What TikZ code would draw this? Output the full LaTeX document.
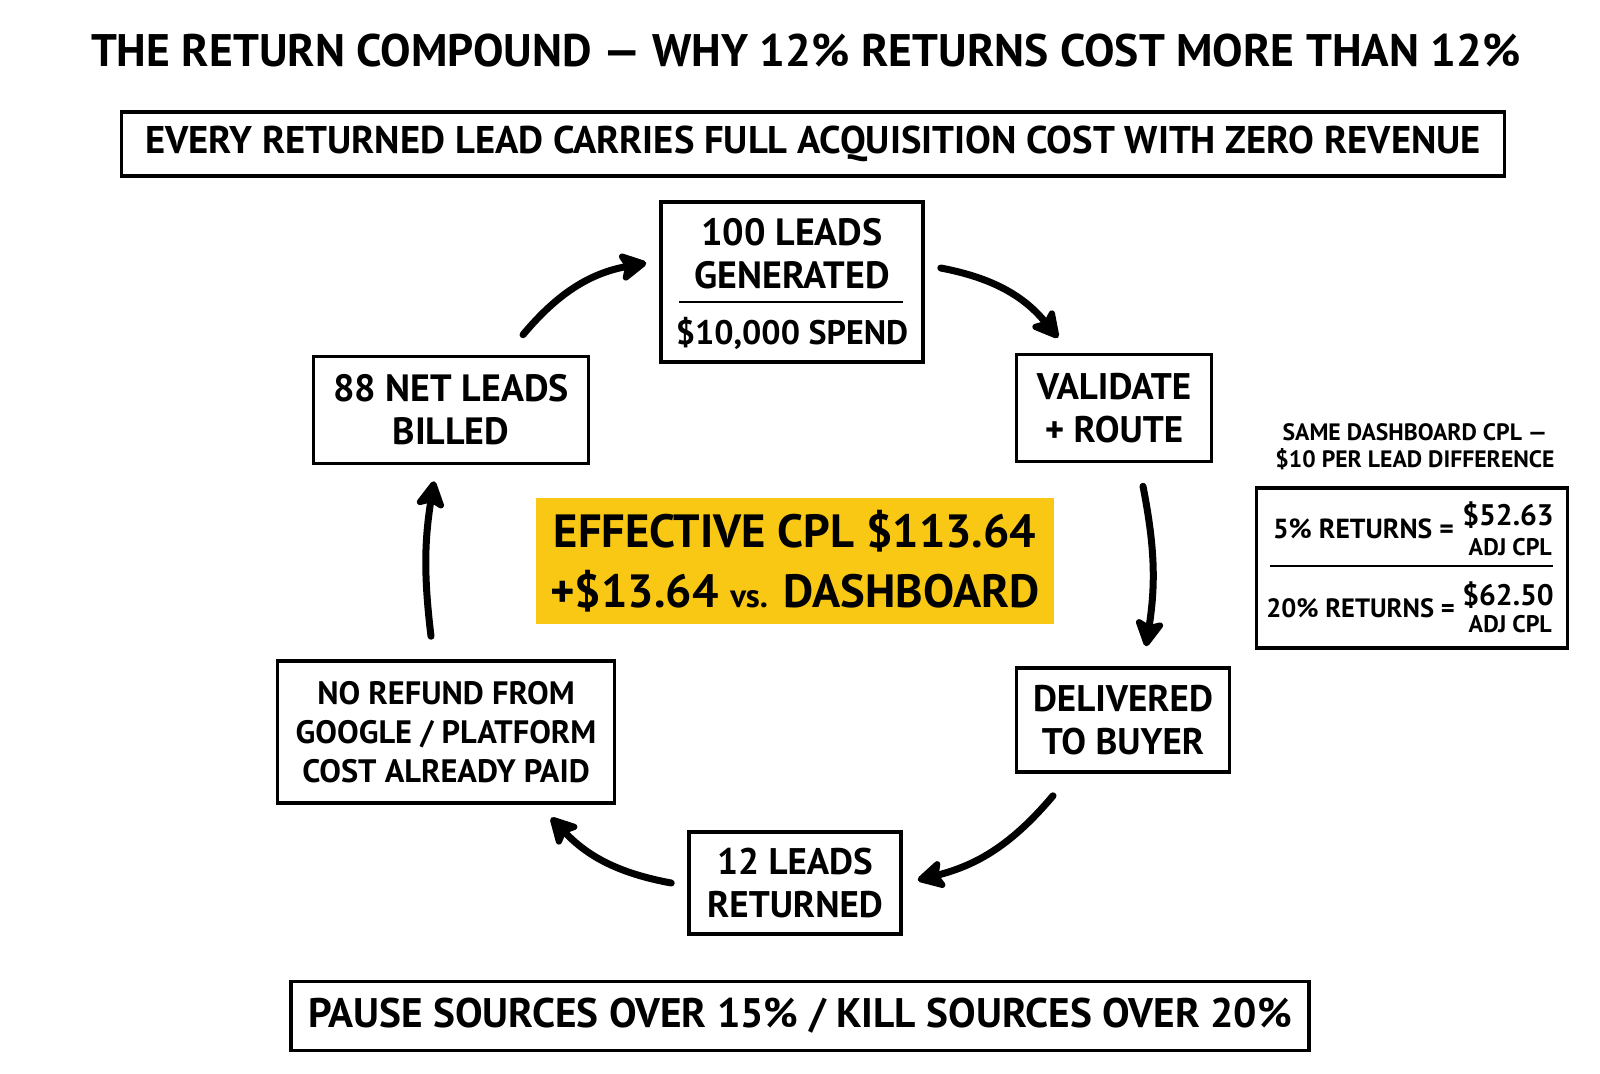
\documentclass[tikz,border=0pt]{standalone}
\usepackage{fontspec}
\setmainfont{PT Sans}
\usetikzlibrary{arrows.meta}
\definecolor{marker}{RGB}{248,200,20}
\newcommand{\fsz}[2]{\fontsize{#1}{#2}\selectfont\bfseries}

\begin{document}
\begin{tikzpicture}[x=1pt,y=-1pt,
  box/.style={draw,line width=3.5pt,align=center,inner sep=0pt},
  txt/.style={align=center,inner sep=0pt},
  flow/.style={line width=7pt,line cap=round,-{Stealth[length=32pt,width=34pt,inset=7pt,round]}}]
\useasboundingbox[fill=white] (0,0) rectangle (1600,1073);

% heading
\node [txt,font=\fsz{45.6}{52}] (title) at (806,51) {THE RETURN COMPOUND — WHY 12\% RETURNS COST MORE THAN 12\%};
\node [box,minimum width=1383,minimum height=64,font=\fsz{38.6}{44}] (sub) at (813,144) {EVERY RETURNED LEAD CARRIES FULL ACQUISITION COST WITH ZERO REVENUE};

% cycle
\node [box,minimum width=262,minimum height=160] (gen) at (792,282) {};
\node [txt,font=\fsz{38}{43}] (genA) at (792,254) {100 LEADS\\GENERATED};
\node [txt,font=\fsz{34}{43}] (genB) at (792,333) {\$10,000 SPEND};
\draw [line width=2.5pt] (679,302) -- (903,302);
\node [box,minimum width=195,minimum height=107,font=\fsz{37}{43}] (val) at (1114,408) {VALIDATE\\+ ROUTE};
\node [box,minimum width=213,minimum height=104,font=\fsz{37}{43}] (del) at (1123,720) {DELIVERED\\TO BUYER};
\node [box,minimum width=212,minimum height=102,font=\fsz{37}{43}] (ret) at (795,883) {12 LEADS\\RETURNED};
\node [box,minimum width=337,minimum height=142,font=\fsz{32.4}{39}] (ref) at (446,732) {NO REFUND FROM\\GOOGLE / PLATFORM\\COST ALREADY PAID};
\node [box,minimum width=275,minimum height=107,font=\fsz{38}{43}] (net) at (451,410) {88 NET LEADS\\BILLED};

% center
\node [txt,fill=marker,minimum width=518,minimum height=126,font=\fsz{46.6}{60}] (eff) at (795,561) {EFFECTIVE CPL \$113.64\\+\$13.64 {\fsz{33}{60}vs.} DASHBOARD};

\draw [flow] ([xshift=72pt,yshift=20pt]net.north) to[bend left=20] ([xshift=-13pt,yshift=19pt]gen.west);
\draw [flow] ([xshift=16pt,yshift=14pt]gen.east) to[bend left=20] ([xshift=-56pt,yshift=15pt]val.north);
\draw [flow] ([xshift=29pt,yshift=-23pt]val.south) to[bend left=10] ([xshift=23pt,yshift=20pt]del.north);
\draw [flow] ([xshift=-70pt,yshift=-22pt]del.south) to[bend left=18] ([xshift=15pt,yshift=3pt]ret.east);
\draw [flow] ([xshift=-16pt]ret.west) to[bend left=18] ([xshift=105pt,yshift=-13pt]ref.south);
\draw [flow] ([xshift=-15pt,yshift=23pt]ref.north) to[bend left=8] ([xshift=-17pt,yshift=-16pt]net.south);

% side panel
\node [txt,font=\fsz{23.7}{27}] (cap) at (1415,447) {SAME DASHBOARD CPL —\\\$10 PER LEAD DIFFERENCE};
\node [box,minimum width=311,minimum height=160] (panel) at (1412,568) {};
\draw [line width=2.5pt] (1270,566) -- (1553,566);
\node [txt,anchor=east,font=\fsz{27.6}{32}] (r5) at (1454,529) {5\% RETURNS =};
\node [txt,anchor=east,font=\fsz{29.7}{38}] (v5) at (1554,515) {\$52.63};
\node [txt,anchor=east,font=\fsz{24}{25}] (a5) at (1552,547) {ADJ CPL};
\node [txt,anchor=east,font=\fsz{26.5}{32}] (r20) at (1455,608) {20\% RETURNS =};
\node [txt,anchor=east,font=\fsz{29.7}{38}] (v20) at (1554,595) {\$62.50};
\node [txt,anchor=east,font=\fsz{24}{25}] (a20) at (1552,624) {ADJ CPL};

% footer
\node [box,minimum width=1018,minimum height=69,font=\fsz{41.3}{46}] (rule) at (800,1016) {PAUSE SOURCES OVER 15\% / KILL SOURCES OVER 20\%};
\end{tikzpicture}
\end{document}
